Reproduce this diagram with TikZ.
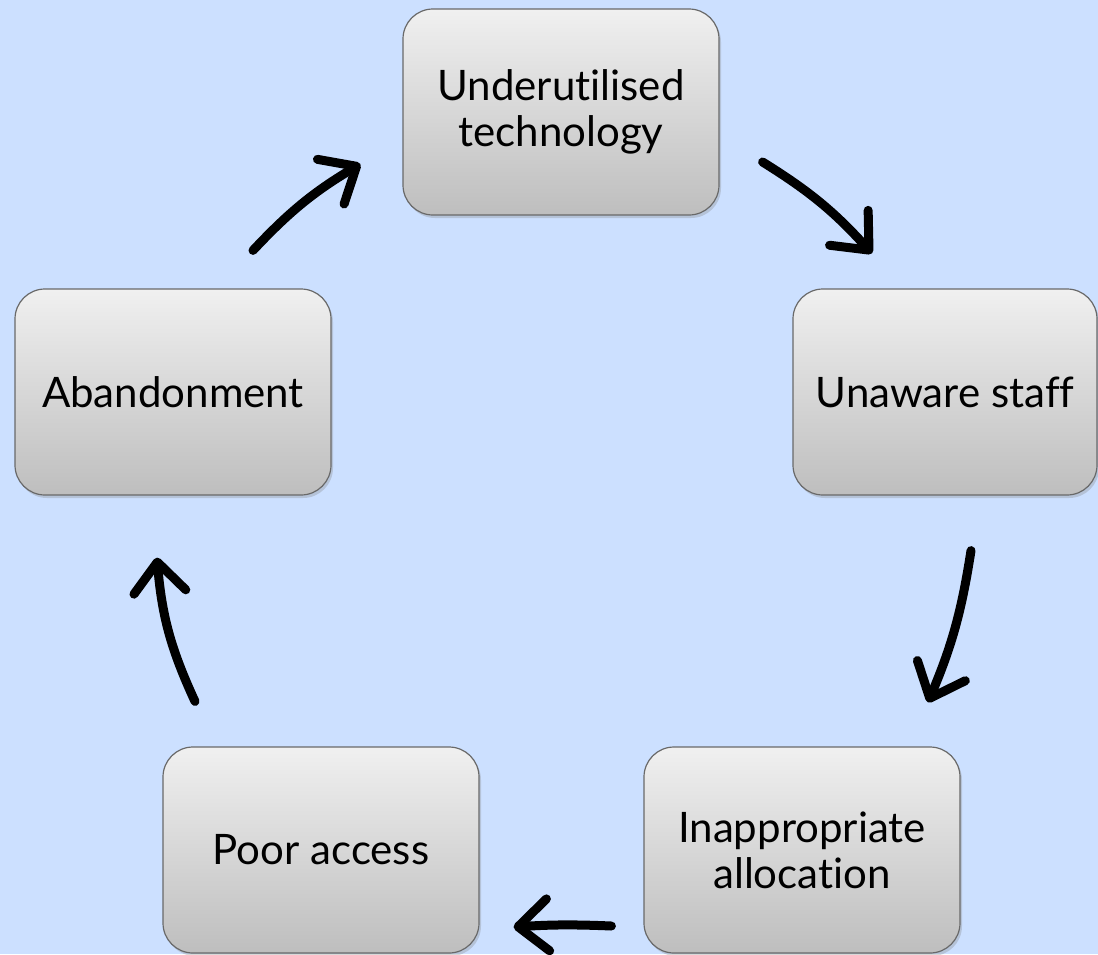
\documentclass[tikz,border=0pt]{standalone}
\usepackage{fontspec}
\setmainfont{Lato}[Ligatures=NoCommon]
\usetikzlibrary{arrows.meta, positioning, shadows}

\definecolor{bgblue}{RGB}{204,224,255}
\definecolor{boxtop}{RGB}{240,240,240}
\definecolor{boxbot}{RGB}{190,190,190}
\definecolor{boxline}{RGB}{105,105,105}

\begin{document}
\begin{tikzpicture}[x=1pt,y=-1pt,on grid,
	stage/.style={draw=boxline, line width=1.2pt, rounded corners=30pt,
		top color=boxtop, bottom color=boxbot,
		drop shadow={shadow xshift=2pt, shadow yshift=-3pt, opacity=0.3},
		minimum width=316pt, minimum height=206pt, align=center,
		font=\fontsize{42}{46}\selectfont},
	cyc/.style={line width=9pt, line cap=round,
		-{Straight Barb[length=30pt, width=52pt, round]}}]

	\fill [bgblue] (0,0) rectangle (1098,954);
	\useasboundingbox (0,0) rectangle (1098,954);

	\node (under) [stage] at (561,112) {Underutilised\\technology};
	\node (unaware) [stage, minimum width=304pt, below right = 280pt and 384pt of under] {Unaware staff};
	\node (inapp) [stage, below left = 458pt and 143pt of unaware] {Inappropriate\\allocation};
	\node (poor) [stage, left = 481pt of inapp] {Poor access};
	\node (aband) [stage, above left = 458pt and 148pt of poor] {Abandonment};

	\path [cyc]
	([shift={(80,-38)}]aband.north) edge [bend left=8] ([shift={(-42,52)}]under.west)

	([shift={(43,50)}]under.east) edge [bend left=8] ([shift={(-73,-35)}]unaware.north)

	([shift={(26,55)}]unaware.south) edge [bend left=7] ([shift={(126,-44)}]inapp.north)

	([shift={(-32,76)}]inapp.west) edge [bend right=3] ([shift={(34,77)}]poor.east)

	([shift={(-126,-45)}]poor.north) edge [bend left=10] ([shift={(-16,62)}]aband.south);

\end{tikzpicture}
\end{document}
